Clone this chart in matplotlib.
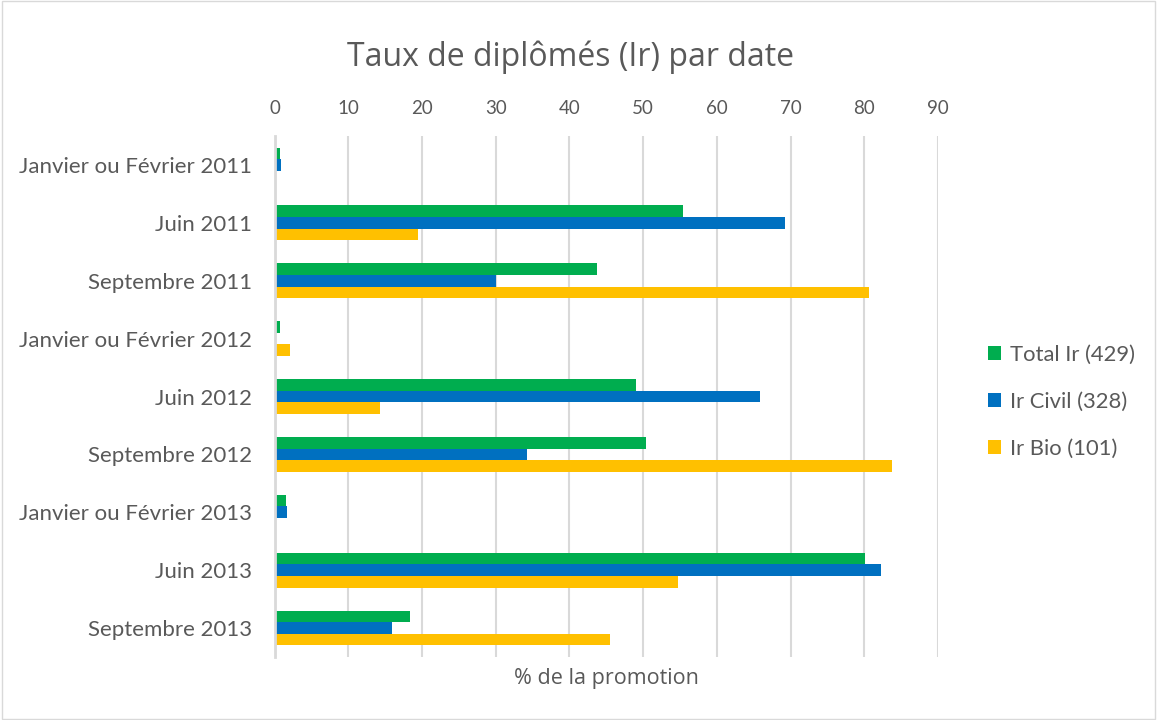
import matplotlib
matplotlib.use("Agg")
import matplotlib.pyplot as plt
import numpy as np

plt.rcParams["font.family"] = ["Lato", "DejaVu Sans"]

categories = [
    "Janvier ou Février 2011",
    "Juin 2011",
    "Septembre 2011",
    "Janvier ou Février 2012",
    "Juin 2012",
    "Septembre 2012",
    "Janvier ou Février 2013",
    "Juin 2013",
    "Septembre 2013",
]
total_ir = [0.75, 55.4, 43.8, 0.75, 49.1, 50.4, 1.56, 80.1, 18.4]
ir_civil = [0.84, 69.3, 30.0, 0.0, 65.9, 34.3, 1.7, 82.3, 16.0]
ir_bio = [0.0, 19.5, 80.7, 2.1, 14.3, 83.8, 0.0, 54.7, 45.5]

series = [
    ("Total Ir (429)", total_ir, "#00ad4f"),
    ("Ir Civil (328)", ir_civil, "#0070c0"),
    ("Ir Bio (101)", ir_bio, "#ffc000"),
]

text_color = "#595959"

fig = plt.figure(figsize=(11.57, 7.2), dpi=100)
ax = fig.add_axes([0.2373, 0.0875, 0.5734, 0.7236])

y = np.arange(len(categories))
h = 0.2
for i, (label, vals, color) in enumerate(series):
    ax.barh(y + (i - 1) * h, vals, height=h, color=color, label=label, zorder=3)

ax.set_ylim(len(categories) - 0.5, -0.5)
ax.set_xlim(0, 90)
ax.set_xticks(range(0, 100, 10))
ax.set_yticks(y)
ax.set_yticklabels(categories)

ax.xaxis.tick_top()
ax.tick_params(axis="x", length=0, pad=14, labelsize=13.5, labelcolor=text_color)
ax.tick_params(axis="y", length=0, pad=16, labelsize=16, labelcolor=text_color)
ax.grid(axis="x", color="#d9d9d9", linewidth=1.5, zorder=0)
for s in ["top", "right", "bottom"]:
    ax.spines[s].set_visible(False)
ax.spines["left"].set_color("#d9d9d9")
ax.spines["left"].set_linewidth(2)
ax.spines["left"].set_zorder(4)

ax.set_xlabel("% de la promotion", fontsize=15.5, color=text_color,
              family=["Open Sans", "DejaVu Sans"], labelpad=8)
ax.xaxis.set_label_position("bottom")

fig.text(0.4927, 0.921, "Taux de diplômés (Ir) par date", fontsize=23,
         color=text_color, ha="center", va="center",
         family=["Open Sans", "DejaVu Sans"])

leg = fig.legend(loc="center left", bbox_to_anchor=(0.8445, 0.442), frameon=False,
                 fontsize=15.8, handlelength=0.6, handleheight=0.6, handletextpad=0.4,
                 labelspacing=1.22, labelcolor=text_color, borderpad=0)

fig.patches.append(plt.Rectangle((0.002, 0.002), 0.996, 0.996, transform=fig.transFigure,
                                 fill=False, edgecolor="#d9d9d9", linewidth=1))

fig.savefig("out.png", dpi=100)
